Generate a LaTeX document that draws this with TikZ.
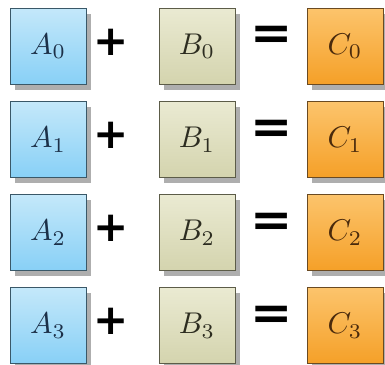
\documentclass[tikz,border=0pt]{standalone}
\usepackage{graphicx}
\usepackage{fontspec}
\newfontfamily\symfont{DejaVu Sans}[BoldFont={DejaVu Sans Bold}]
\usetikzlibrary{shadows}
\definecolor{atop}{HTML}{C4E8FA}
\definecolor{abot}{HTML}{88D0F6}
\definecolor{abord}{HTML}{3A5868}
\definecolor{atext}{HTML}{1C3048}
\definecolor{btop}{HTML}{EAEAD2}
\definecolor{bbot}{HTML}{D4D4AE}
\definecolor{bbord}{HTML}{5C5C48}
\definecolor{btext}{HTML}{2C2C20}
\definecolor{ctop}{HTML}{FCC46C}
\definecolor{cbot}{HTML}{F5A028}
\definecolor{cbord}{HTML}{6A4A22}
\definecolor{ctext}{HTML}{4A2A0C}
\newcommand{\cellmath}[1]{\scalebox{3}{$#1$}}
\tikzset{
  cell/.style={draw, line width=0.8pt, minimum width=76pt, minimum height=76pt,
    inner sep=0pt,
    drop shadow={shadow xshift=4.5pt, shadow yshift=-5.5pt, fill=black!45, opacity=0.7}},
  acell/.style={cell, draw=abord, top color=atop, bottom color=abot, text=atext},
  bcell/.style={cell, draw=bbord, top color=btop, bottom color=bbot, text=btext},
  ccell/.style={cell, draw=cbord, top color=ctop, bottom color=cbot, text=ctext},
  opsign/.style={inner sep=0pt, font=\symfont\bfseries\fontsize{42}{42}\selectfont, text=black}
}
\begin{document}
\begin{tikzpicture}[x=1pt,y=1pt]
\useasboundingbox[fill=white] (0,0) rectangle (385,-364);
\foreach \i/\y in {0/46,1/139.5,2/232.5,3/325.5}{
  \node[acell] (a\i) at (48,-\y) {\cellmath{A_{\i}}};
  \node[bcell] (b\i) at (197,-\y) {\cellmath{B_{\i}}};
  \node[ccell] (c\i) at (345,-\y) {\cellmath{C_{\i}}};
  \node[opsign] (p\i) at (111.5,-\y+4) {+};
  \node[opsign] (e\i) at (272,-\y+8) {\scalebox{1.2}[1.15]{=}};
}
\end{tikzpicture}
\end{document}
